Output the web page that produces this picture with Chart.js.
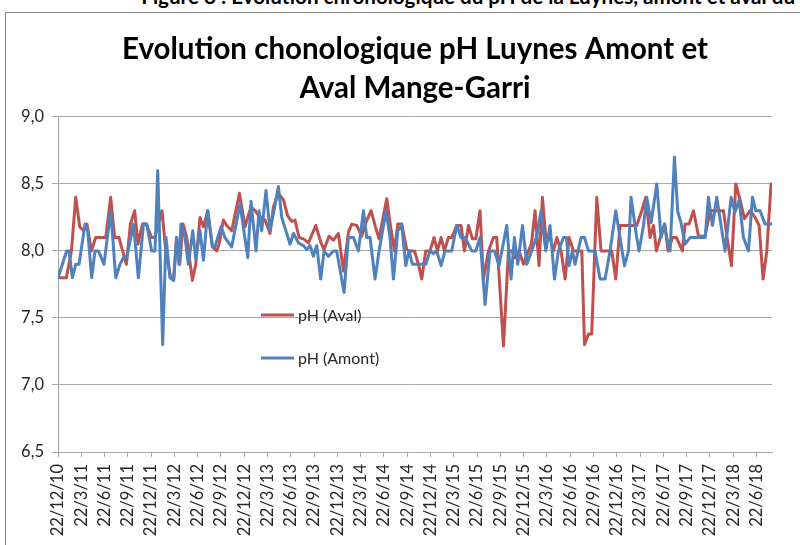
<!DOCTYPE html>
<html>
<head>
<meta charset="utf-8">
<script src="https://cdn.jsdelivr.net/npm/chart.js@4.4.1/dist/chart.umd.min.js"></script>
<style>
  html, body { margin: 0; padding: 0; background: #fff; }
  #wrap { position: relative; width: 800px; height: 545px; overflow: hidden; }
  #caption { position: absolute; right: 5px; top: -16px; font: bold 20.6px Lato, sans-serif; color: #000; white-space: nowrap; }
  #frame { position: absolute; left: 5px; top: 12px; width: 900px; height: 600px; border: 1px solid #868686; }
  #chart { position: absolute; left: 0; top: 0; }
</style>
</head>
<body>
<div id="wrap">
  <div id="caption">Figure 8 : Evolution chronologique du pH de la Luynes, amont et aval du</div>
  <div id="frame"></div>
  <canvas id="chart" width="800" height="545"></canvas>
</div>
<script>
// x values are months counted from 22/12/2010
const tickLabels = ['22/12/10', '22/3/11', '22/6/11', '22/9/11', '22/12/11', '22/3/12', '22/6/12', '22/9/12',
  '22/12/12', '22/3/13', '22/6/13', '22/9/13', '22/12/13', '22/3/14', '22/6/14', '22/9/14', '22/12/14',
  '22/3/15', '22/6/15', '22/9/15', '22/12/15', '22/3/16', '22/6/16', '22/9/16', '22/12/16', '22/3/17',
  '22/6/17', '22/9/17', '22/12/17', '22/3/18', '22/6/18'];

const avalMonths = [0, 1.08, 1.73, 2.28, 2.8, 3.31, 3.74, 4.3, 4.86, 6.15,
  6.79, 7.3, 7.86, 8.81, 9.33, 9.88, 10.31, 10.88, 11.39, 12.04,
  12.46, 13.4, 13.88, 14.52, 14.91, 15.26, 15.68, 16.11, 16.58, 17.32,
  17.75, 18.3, 18.74, 19.29, 19.9, 20.45, 20.75, 21.31, 21.74, 22.38,
  23.38, 24.1, 24.87, 25.39, 25.9, 26.68, 27.32, 27.76, 28.4, 29.05,
  29.6, 30.12, 30.54, 31.06, 31.62, 32.27, 33.21, 33.89, 34.28, 34.92,
  35.49, 36.13, 36.78, 37.42, 37.85, 38.49, 39.14, 39.65, 40.34, 40.85,
  41.37, 42.36, 42.78, 43.35, 43.78, 44.29, 44.94, 45.36, 45.93, 46.44,
  46.87, 47.38, 47.94, 48.45, 48.89, 49.36, 49.79, 50.31, 50.73, 51.38,
  51.93, 52.37, 52.89, 53.4, 53.83, 54.38, 54.82, 55.46, 56.11, 56.53,
  57.4, 58.04, 58.47, 58.89, 59.41, 59.97, 60.62, 61.0, 61.47, 61.98,
  62.42, 62.85, 63.4, 63.84, 64.27, 64.82, 65.34, 65.85, 66.42, 66.84,
  67.49, 67.84, 68.35, 68.77, 69.42, 69.97, 70.71, 71.35, 71.87, 72.42,
  73.07, 73.71, 74.57, 75.22, 75.73, 76.29, 76.73, 77.11, 77.76, 78.18,
  78.61, 79.18, 79.69, 80.46, 80.8, 81.31, 81.88, 82.53, 83.38, 84.02,
  84.85, 85.75, 86.21, 86.78, 87.33, 87.89, 88.45, 89.18, 89.82, 90.34,
  90.85, 91.33, 91.88];

const avalPH = [7.8, 7.8, 8.0, 8.4, 8.18, 8.15, 8.2, 8.0, 8.1, 8.1,
  8.4, 8.1, 8.1, 7.9, 8.2, 8.3, 8.05, 8.2, 8.2, 8.1,
  8.1, 8.3, 8.0, 7.8, 7.8, 8.1, 7.9, 8.2, 8.1, 7.78,
  7.9, 8.25, 8.18, 8.3, 8.03, 8.0, 8.05, 8.23, 8.19, 8.15,
  8.43, 8.18, 8.33, 8.3, 8.26, 8.23, 8.13, 8.33, 8.43, 8.38,
  8.26, 8.22, 8.23, 8.1, 8.09, 8.06, 8.19, 8.06, 8.01, 8.11,
  8.08, 8.13, 7.85, 8.14, 8.2, 8.19, 8.11, 8.21, 8.3, 8.19,
  8.09, 8.39, 8.21, 8.0, 8.2, 8.2, 8.01, 8.0, 8.0, 7.9,
  7.79, 8.0, 8.0, 8.1, 8.0, 8.1, 8.0, 8.1, 8.1, 8.19,
  8.19, 8.0, 8.19, 8.09, 8.09, 8.3, 7.79, 8.0, 8.1, 8.1,
  7.29, 8.0, 8.0, 7.95, 8.0, 7.9, 8.0, 8.05, 8.3, 7.89,
  8.4, 8.1, 8.1, 8.0, 8.1, 8.0, 7.79, 8.1, 8.0, 8.0,
  8.0, 7.3, 7.38, 7.38, 8.4, 8.0, 8.0, 8.0, 7.79, 8.19,
  8.19, 8.19, 8.19, 8.3, 8.4, 8.1, 8.19, 8.0, 8.13, 8.2,
  8.0, 8.1, 8.1, 8.0, 8.2, 8.2, 8.3, 8.11, 8.11, 8.3,
  8.3, 8.3, 8.1, 7.89, 8.5, 8.38, 8.24, 8.3, 8.25, 8.19,
  7.79, 8.0, 8.5];

const amontMonths = [0, 1.12, 1.42, 1.86, 2.28, 2.71, 3.48, 3.83, 4.34, 4.77,
  5.21, 5.93, 6.79, 7.44, 7.99, 8.43, 8.85, 9.72, 10.36, 11.01,
  11.43, 12.07, 12.5, 12.85, 13.49, 13.92, 14.43, 14.91, 15.3, 15.59,
  15.85, 16.37, 16.8, 17.36, 17.75, 18.3, 18.74, 19.29, 19.9, 20.23,
  21.01, 21.52, 22.38, 23.45, 24.45, 24.87, 25.52, 25.9, 26.25, 26.8,
  27.32, 27.76, 28.4, 28.83, 29.9, 30.34, 30.98, 31.62, 32.05, 32.47,
  32.91, 33.34, 33.85, 34.28, 34.85, 35.49, 35.91, 36.86, 37.42, 38.07,
  38.71, 39.36, 39.78, 40.21, 40.85, 41.37, 42.27, 42.78, 43.22, 43.78,
  44.29, 44.81, 45.23, 45.67, 46.87, 47.38, 47.94, 48.38, 48.8, 49.36,
  49.87, 50.73, 51.38, 51.93, 52.45, 52.89, 53.31, 53.83, 54.38, 55.03,
  55.67, 56.24, 56.83, 57.82, 58.38, 58.81, 59.24, 59.85, 60.4, 61.04,
  61.69, 62.24, 62.85, 63.4, 63.97, 64.48, 65.13, 65.51, 65.85, 66.29,
  66.62, 67.4, 67.84, 68.35, 69.2, 69.85, 70.49, 71.13, 71.87, 72.42,
  72.99, 73.51, 73.84, 74.57, 74.87, 75.44, 75.86, 76.42, 77.15, 77.71,
  78.14, 78.44, 78.87, 79.43, 79.86, 80.28, 80.8, 81.44, 83.38, 83.81,
  84.33, 84.88, 85.44, 85.95, 86.73, 87.24, 87.76, 88.32, 88.97, 89.48,
  89.91, 90.46, 91.11, 91.88];

const amontPH = [7.8, 8.0, 8.0, 7.8, 7.9, 7.9, 8.2, 8.15, 7.8, 8.0,
  8.0, 7.9, 8.3, 7.8, 7.9, 7.95, 7.95, 8.2, 7.8, 8.2,
  8.2, 8.0, 8.0, 8.6, 7.3, 8.1, 7.8, 7.78, 8.1, 7.9,
  8.2, 8.1, 7.9, 8.15, 7.94, 8.15, 7.93, 8.3, 8.03, 8.03,
  8.18, 8.1, 8.03, 8.35, 7.95, 8.37, 8.0, 8.3, 8.15, 8.45,
  8.15, 8.28, 8.48, 8.25, 8.05, 8.13, 8.06, 8.04, 8.01, 8.04,
  7.96, 8.04, 7.79, 8.0, 7.96, 8.0, 8.0, 7.69, 8.1, 8.1,
  8.0, 8.3, 8.1, 8.1, 7.79, 8.0, 8.3, 8.1, 7.79, 8.15,
  8.19, 7.89, 8.0, 7.9, 7.9, 7.9, 8.0, 7.98, 8.0, 7.89,
  8.0, 8.0, 8.19, 8.1, 8.1, 8.05, 8.0, 8.0, 8.1, 7.6,
  8.0, 8.0, 7.89, 8.19, 7.79, 8.1, 7.9, 8.19, 7.9, 8.0,
  8.11, 8.3, 8.0, 8.19, 7.79, 8.0, 8.1, 8.1, 7.89, 8.0,
  7.9, 8.1, 8.1, 8.0, 8.0, 7.79, 7.79, 8.0, 8.3, 8.1,
  7.89, 8.0, 8.4, 8.1, 8.0, 8.19, 8.4, 8.21, 8.5, 8.1,
  8.2, 8.1, 8.0, 8.7, 8.29, 8.21, 8.05, 8.1, 8.1, 8.4,
  8.19, 8.4, 8.19, 8.0, 8.4, 8.29, 8.38, 8.1, 8.0, 8.4,
  8.3, 8.3, 8.2, 8.2];

const seriesNames = ['pH (Aval)', 'pH (Amont)'];
const seriesColors = ['#C0504D', '#4F81BD'];

const font = 'Lato, "Open Sans", sans-serif';
const gridColor = '#a8a8a8';
const textColor = '#262626';

// Excel-style legend sitting inside the plot area
const insideLegend = {
  id: 'insideLegend',
  afterDatasetsDraw(chart) {
    const { ctx, chartArea } = chart;
    const x0 = chartArea.left + 203;
    const rows = [chartArea.top + 198, chartArea.top + 241];
    ctx.save();
    ctx.font = '16px ' + font;
    ctx.textBaseline = 'middle';
    ctx.textAlign = 'left';
    chart.data.datasets.forEach((ds, i) => {
      const y = rows[i];
      ctx.strokeStyle = ds.borderColor;
      ctx.lineWidth = 3;
      ctx.beginPath();
      ctx.moveTo(x0, y);
      ctx.lineTo(x0 + 33, y);
      ctx.stroke();
      ctx.fillStyle = textColor;
      ctx.fillText(ds.label, x0 + 37, y + 1);
    });
    ctx.restore();
  }
};

const toPoints = (xs, ys) => xs.map((x, i) => ({ x: x, y: ys[i] }));

new Chart(document.getElementById('chart'), {
  type: 'line',
  data: {
    datasets: [
      {
        label: seriesNames[0],
        data: toPoints(avalMonths, avalPH),
        borderColor: seriesColors[0],
        order: 1
      },
      {
        label: seriesNames[1],
        data: toPoints(amontMonths, amontPH),
        borderColor: seriesColors[1],
        order: 0
      }
    ]
  },
  options: {
    responsive: false,
    animation: false,
    layout: { padding: { top: 30, left: 0, right: 28, bottom: 0 } },
    elements: {
      line: { borderWidth: 3, tension: 0, borderJoinStyle: 'round', borderCapStyle: 'round' },
      point: { radius: 0 }
    },
    plugins: {
      legend: { display: false },
      tooltip: { enabled: false },
      title: {
        display: true,
        fullSize: false,
        text: ['Evolution chonologique pH Luynes Amont et', 'Aval Mange-Garri'],
        color: '#000',
        font: { family: font, size: 29.5, weight: 'bold', lineHeight: 1.32 },
        padding: { top: 0, bottom: 9 }
      }
    },
    scales: {
      x: {
        type: 'linear',
        min: 0,
        max: 92,
        afterFit: s => { s.height = 93; },
        afterBuildTicks: s => { s.ticks = tickLabels.map((_, i) => ({ value: i * 3 })); },
        border: { display: true, color: gridColor, width: 1 },
        grid: { drawOnChartArea: false, drawTicks: true, tickLength: 5, color: gridColor },
        ticks: {
          minRotation: 90,
          maxRotation: 90,
          autoSkip: false,
          padding: 7,
          color: textColor,
          font: { family: font, size: 16.5 },
          callback: v => tickLabels[Math.round(v / 3)]
        }
      },
      y: {
        min: 6.5,
        max: 9.0,
        afterFit: s => { s.width = 58; },
        border: { display: true, color: gridColor, width: 1 },
        grid: { color: gridColor, tickLength: 6 },
        ticks: {
          stepSize: 0.5,
          padding: 8,
          color: textColor,
          font: { family: font, size: 16.5 },
          callback: v => v.toFixed(1).replace('.', ',')
        }
      }
    }
  },
  plugins: [insideLegend]
});
</script>
</body>
</html>
